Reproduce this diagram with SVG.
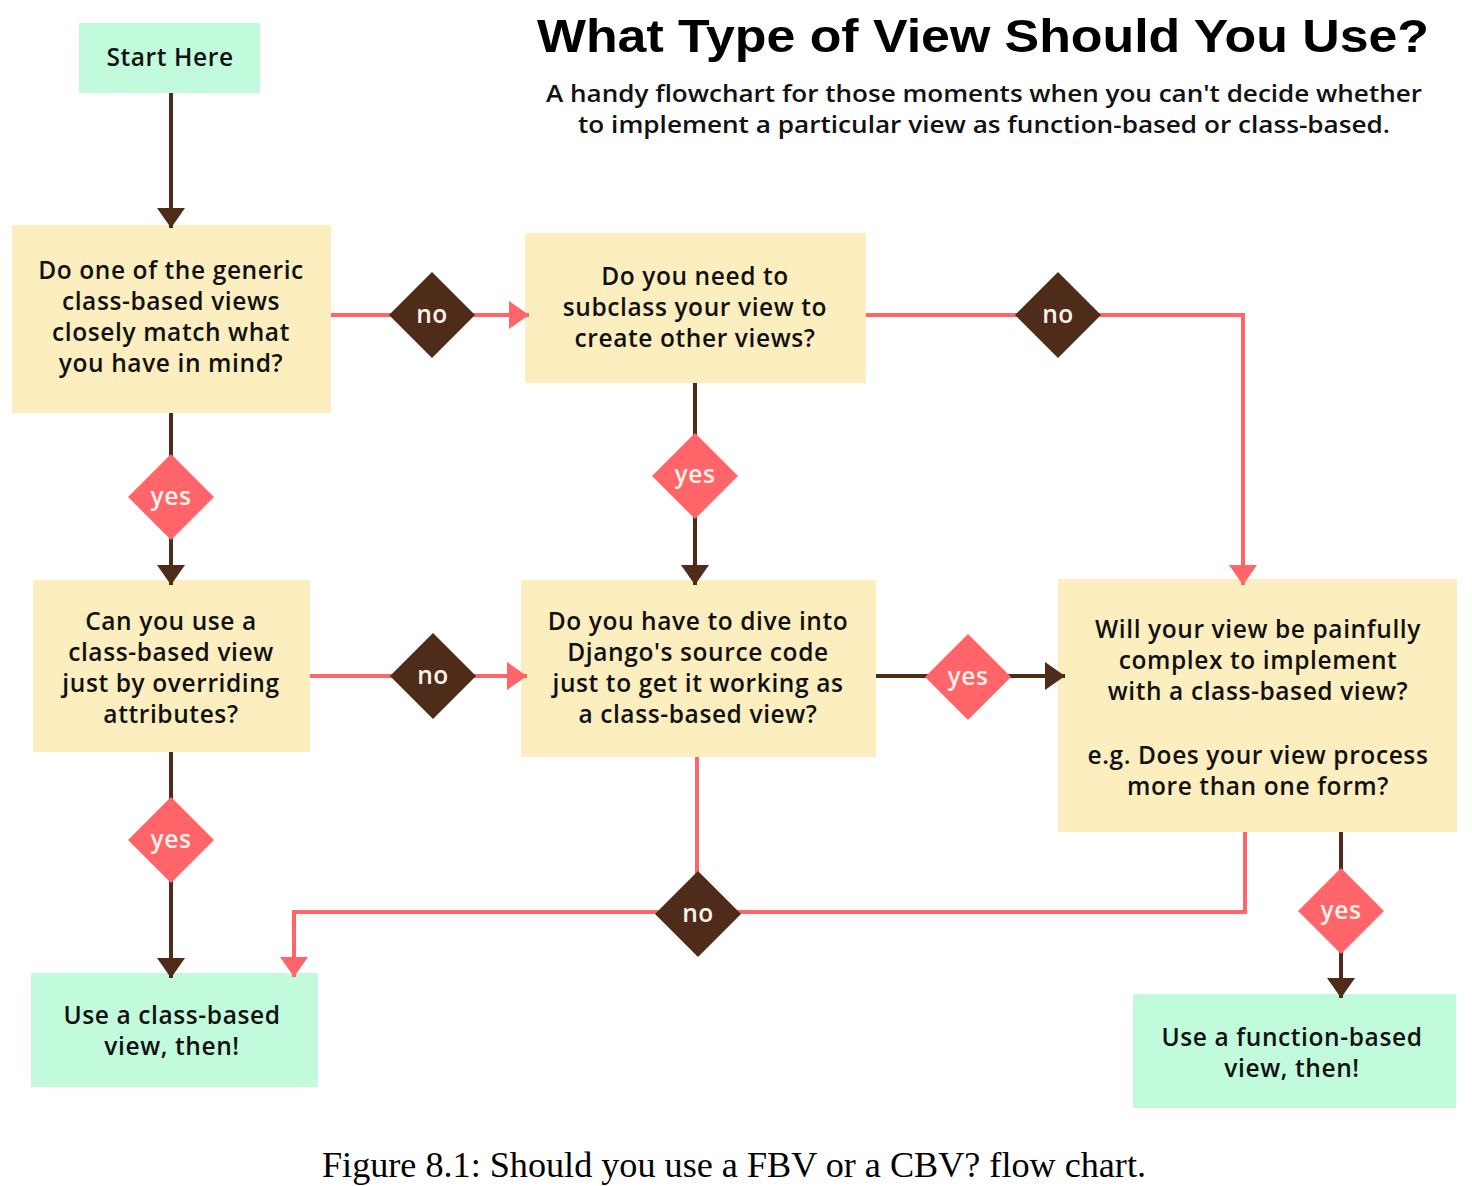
<svg xmlns="http://www.w3.org/2000/svg" width="1472" height="1186" viewBox="0 0 1472 1186">
<style>
.q{fill:#fdeebf}
.t{fill:#c2fbdc}
.bt{font-family:"Open Sans","DejaVu Sans",sans-serif;font-weight:600;font-size:24.5px;letter-spacing:0.6px;fill:#111;text-anchor:middle}
.pk{fill:none;stroke:#ff6569;stroke-width:4}
.br{fill:none;stroke:#4f2b19;stroke-width:4}
.dn{fill:#4f2b19}
.dy{fill:#ff6569}
.dl{font-family:"Open Sans","DejaVu Sans",sans-serif;font-weight:600;font-size:24.5px;letter-spacing:0.6px;fill:#fff3ea;text-anchor:middle}
</style>
<defs>
<marker id="ap" markerUnits="userSpaceOnUse" markerWidth="20" markerHeight="28" refX="20" refY="14" orient="auto"><path d="M0,0 L20,14 L0,28 z" fill="#ff6569"/></marker>
<marker id="ab" markerUnits="userSpaceOnUse" markerWidth="20" markerHeight="28" refX="20" refY="14" orient="auto"><path d="M0,0 L20,14 L0,28 z" fill="#4f2b19"/></marker>
</defs>
<rect width="1472" height="1186" fill="#fff"/>
<g id="title">
<text x="983" y="52" font-family="'Liberation Sans',sans-serif" font-weight="bold" font-size="47" text-anchor="middle" textLength="892" lengthAdjust="spacingAndGlyphs" fill="#000">What Type of View Should You Use?</text>
<text x="984" y="102" font-family="'Open Sans','DejaVu Sans',sans-serif" font-weight="600" font-size="24" text-anchor="middle" textLength="876" lengthAdjust="spacingAndGlyphs" fill="#111">A handy flowchart for those moments when you can't decide whether</text>
<text x="984" y="133" font-family="'Open Sans','DejaVu Sans',sans-serif" font-weight="600" font-size="24" text-anchor="middle" textLength="812" lengthAdjust="spacingAndGlyphs" fill="#111">to implement a particular view as function-based or class-based.</text>
</g>
<g id="start"><rect class="t" x="79" y="23" width="181" height="70"/><text class="bt" x="170" y="66">Start Here</text></g>
<g id="q1"><rect class="q" x="12" y="225" width="319" height="188"/>
<text class="bt" x="171" y="279">Do one of the generic</text>
<text class="bt" x="171" y="310">class-based views</text>
<text class="bt" x="171" y="341">closely match what</text>
<text class="bt" x="171" y="372">you have in mind?</text></g>
<g id="q2"><rect class="q" x="525" y="233" width="341" height="150"/>
<text class="bt" x="695" y="285">Do you need to</text>
<text class="bt" x="695" y="316">subclass your view to</text>
<text class="bt" x="695" y="347">create other views?</text></g>
<g id="q3"><rect class="q" x="33" y="580" width="277" height="172"/>
<text class="bt" x="171" y="630">Can you use a</text>
<text class="bt" x="171" y="661">class-based view</text>
<text class="bt" x="171" y="692">just by overriding</text>
<text class="bt" x="171" y="723">attributes?</text></g>
<g id="q4"><rect class="q" x="521" y="580" width="355" height="177"/>
<text class="bt" x="698" y="630">Do you have to dive into</text>
<text class="bt" x="698" y="661">Django's source code</text>
<text class="bt" x="698" y="692">just to get it working as</text>
<text class="bt" x="698" y="723">a class-based view?</text></g>
<g id="q5"><rect class="q" x="1058" y="579" width="399" height="253"/>
<text class="bt" x="1258" y="638">Will your view be painfully</text>
<text class="bt" x="1258" y="669">complex to implement</text>
<text class="bt" x="1258" y="700">with a class-based view?</text>
<text class="bt" x="1258" y="764">e.g. Does your view process</text>
<text class="bt" x="1258" y="795">more than one form?</text></g>
<g id="cbv"><rect class="t" x="31" y="973" width="287" height="114"/>
<text class="bt" x="172" y="1024">Use a class-based</text>
<text class="bt" x="172" y="1055">view, then!</text></g>
<g id="fbv"><rect class="t" x="1133" y="994" width="323" height="114"/>
<text class="bt" x="1292" y="1046">Use a function-based</text>
<text class="bt" x="1292" y="1077">view, then!</text></g>
<g id="connectors">
<path class="br" d="M171,93 V228" marker-end="url(#ab)"/>
<path class="pk" d="M331,315 H529" marker-end="url(#ap)"/>
<path class="pk" d="M866,315 H1243 V585" marker-end="url(#ap)"/>
<path class="br" d="M695,383 V585" marker-end="url(#ab)"/>
<path class="br" d="M171,413 V585" marker-end="url(#ab)"/>
<path class="pk" d="M310,676 H527" marker-end="url(#ap)"/>
<path class="br" d="M876,676 H1065" marker-end="url(#ab)"/>
<path class="br" d="M171,752 V978" marker-end="url(#ab)"/>
<path class="pk" d="M697,757 V912 H294 V977" marker-end="url(#ap)"/>
<path class="pk" d="M1245,832 V912 H697"/>
<path class="br" d="M1341,832 V998" marker-end="url(#ab)"/>
</g>
<g id="d-no1"><path class="dn" d="M432,272 L475,315 L432,358 L389,315 z"/><text class="dl" x="432" y="323">no</text></g>
<g id="d-no2"><path class="dn" d="M1058,272 L1101,315 L1058,358 L1015,315 z"/><text class="dl" x="1058" y="323">no</text></g>
<g id="d-yes1"><path class="dy" d="M171,454 L214,497 L171,540 L128,497 z"/><text class="dl" x="171" y="505">yes</text></g>
<g id="d-yes2"><path class="dy" d="M695,433 L738,476 L695,519 L652,476 z"/><text class="dl" x="695" y="483">yes</text></g>
<g id="d-no3"><path class="dn" d="M433,633 L476,676 L433,719 L390,676 z"/><text class="dl" x="433" y="684">no</text></g>
<g id="d-yes3"><path class="dy" d="M968,634 L1011,677 L968,720 L925,677 z"/><text class="dl" x="968" y="685">yes</text></g>
<g id="d-yes4"><path class="dy" d="M171,797 L214,840 L171,883 L128,840 z"/><text class="dl" x="171" y="848">yes</text></g>
<g id="d-no4"><path class="dn" d="M698,871 L741,914 L698,957 L655,914 z"/><text class="dl" x="698" y="922">no</text></g>
<g id="d-yes5"><path class="dy" d="M1341,868 L1384,911 L1341,954 L1298,911 z"/><text class="dl" x="1341" y="919">yes</text></g>
<g id="caption"><text x="734" y="1177" font-family="'Liberation Serif',serif" font-size="35" text-anchor="middle" textLength="824" lengthAdjust="spacingAndGlyphs" fill="#000">Figure 8.1: Should you use a FBV or a CBV? flow chart.</text></g>
</svg>
